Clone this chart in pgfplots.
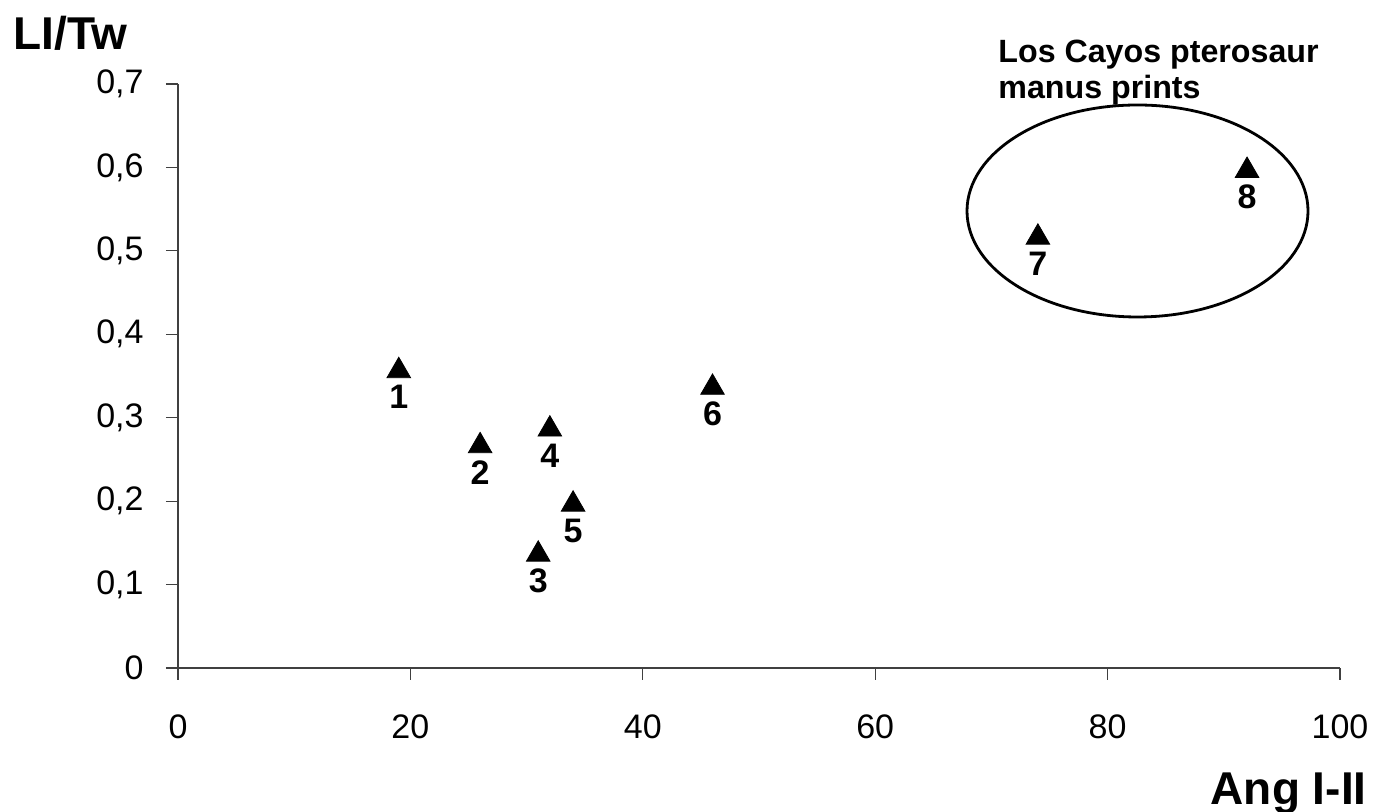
\documentclass[border=0pt]{standalone}
\usepackage{pgfplots}
\pgfplotsset{compat=1.18}
\usepackage{fontspec}
\setmainfont{Liberation Sans}
\begin{document}
\begin{tikzpicture}
\useasboundingbox (-89pt,-72pt) rectangle (598.5pt,334pt);
\begin{axis}[
  scale only axis, width=581pt, height=292pt,
  xmin=0, xmax=100, ymin=0, ymax=0.7,
  axis x line=bottom, axis y line=left,
  axis line style={-, line width=1pt, black!75},
  xtick={0,20,40,60,80,100},
  ytick={0,0.1,0.2,0.3,0.4,0.5,0.6,0.7},
  tick align=outside, major tick length=6pt,
  tick style={black!75, line width=0.6pt},
  /pgf/number format/assume math mode=true,
  /pgf/number format/use comma,
  yticklabel style={/pgf/number format/fixed, /pgf/number format/precision=1, xshift=-11pt},
  xticklabel style={yshift=-17pt},
  ticklabel style={font=\fontsize{17}{20}\selectfont, inner sep=0pt},
  clip=false,
]
\addplot[only marks, mark=triangle*, mark size=6.8pt,
  mark options={fill=black, draw=black, yshift=-1.6pt},
  nodes near coords, point meta=explicit symbolic,
  nodes near coords style={anchor=north, inner sep=0pt, yshift=-7pt,
    font=\bfseries\fontsize{17}{20}\selectfont, text=black}]
  table[meta=label] {
x y label
19 0.36 1
26 0.27 2
31 0.14 3
32 0.29 4
34 0.20 5
46 0.34 6
74 0.52 7
92 0.60 8
};
\end{axis}
\node[anchor=base west, inner sep=0pt, font=\bfseries\fontsize{23}{27}\selectfont] at (-82.5pt,309pt) {LI/Tw};
\node[anchor=base east, inner sep=0pt, font=\bfseries\fontsize{23}{27}\selectfont] at (594.5pt,-68.5pt) {Ang I-II};
\node[anchor=base west, inner sep=0pt, font=\bfseries\fontsize{16.1}{19}\selectfont] at (410pt,302.5pt) {Los Cayos pterosaur};
\node[anchor=base west, inner sep=0pt, font=\bfseries\fontsize{16.1}{19}\selectfont] at (410pt,284.5pt) {manus prints};
\draw[line width=1.4pt] (479.75pt,228.5pt) ellipse [x radius=85.25pt, y radius=53pt];
\end{tikzpicture}
\end{document}
